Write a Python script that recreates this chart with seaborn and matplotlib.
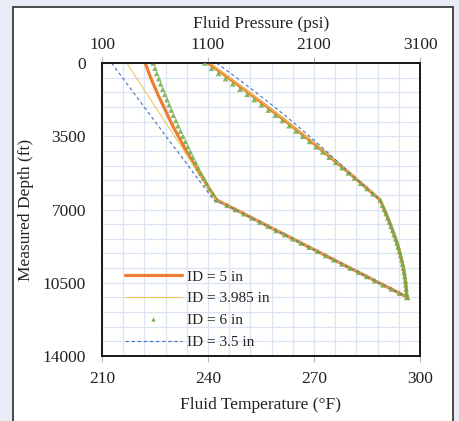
import matplotlib
matplotlib.use("Agg")
import matplotlib.pyplot as plt
from matplotlib.lines import Line2D
from matplotlib.patches import Rectangle
from matplotlib.ticker import MultipleLocator
import seaborn as sns
import pandas as pd

# ---------------- data ----------------
depth_upper = [0, 250, 500, 750, 1000, 1250, 1500, 1750, 2000, 2250, 2500, 2750, 3000,
               3250, 3500, 3750, 4000, 4250, 4500, 4750, 5000, 5250, 5500, 5750, 6000,
               6250, 6550]
depth_lower = [6800, 7000, 7200, 7400, 7600, 7800, 8000, 8200, 8400, 8600, 8800, 9000,
               9200, 9400, 9600, 9800, 10000, 10200, 10400, 10600, 10800, 11000, 11200]

temp_lower = [245.4, 247.7, 250.1, 252.4, 254.7, 257.0, 259.3, 261.7, 264.0, 266.3, 268.6,
              271.0, 273.3, 275.6, 277.9, 280.2, 282.6, 284.9, 287.2, 289.5, 291.9, 294.2,
              296.5]
press_lower = [2746, 2763, 2780, 2796, 2812, 2827, 2842, 2856, 2870, 2883, 2895, 2906,
               2916, 2926, 2935, 2943, 2950, 2956, 2962, 2966, 2970, 2973, 2975]

temp_id5 = [222.2, 222.8, 223.3, 223.9, 224.5, 225.2, 225.8, 226.5, 227.2, 227.9, 228.6,
            229.3, 230.0, 230.8, 231.6, 232.4, 233.2, 234.0, 234.9, 235.8, 236.6, 237.5,
            238.5, 239.4, 240.3, 241.3, 242.5]
temp_id3985 = [217.0, 218.0, 218.9, 219.9, 220.9, 221.8, 222.8, 223.8, 224.7, 225.7, 226.7,
               227.6, 228.6, 229.6, 230.5, 231.5, 232.5, 233.4, 234.4, 235.3, 236.3, 237.3,
               238.2, 239.2, 240.2, 241.1, 242.3]
temp_id6 = [224.5, 225.0, 225.5, 226.1, 226.6, 227.2, 227.8, 228.4, 229.0, 229.6, 230.2,
            230.9, 231.5, 232.2, 232.9, 233.6, 234.3, 235.0, 235.7, 236.5, 237.2, 238.0,
            238.8, 239.6, 240.4, 241.4, 242.5]
temp_id35 = [212.7, 213.8, 214.9, 216.0, 217.1, 218.2, 219.3, 220.4, 221.5, 222.6, 223.7,
             224.8, 225.9, 227.0, 228.1, 229.2, 230.3, 231.5, 232.6, 233.7, 234.8, 235.9,
             237.0, 238.1, 239.2, 240.3, 241.6]

press_id5 = [1100, 1169, 1237, 1304, 1371, 1438, 1504, 1569, 1634, 1698, 1762, 1826, 1888,
             1951, 2012, 2074, 2134, 2195, 2254, 2314, 2372, 2430, 2488, 2545, 2602, 2658,
             2724]
press_id3985 = [1108, 1177, 1245, 1312, 1379, 1446, 1512, 1577, 1642, 1706, 1770, 1834, 1896,
                1958, 2019, 2081, 2141, 2201, 2260, 2320, 2377, 2435, 2492, 2549, 2605, 2660,
                2724]
press_id6 = [1070, 1134, 1199, 1266, 1334, 1402, 1469, 1536, 1603, 1669, 1735, 1801, 1865,
             1930, 1993, 2057, 2119, 2182, 2242, 2304, 2363, 2423, 2482, 2540, 2599, 2656,
             2724]
press_id35 = [1180, 1248, 1315, 1380, 1446, 1511, 1576, 1639, 1702, 1763, 1824, 1884, 1943,
              2001, 2057, 2114, 2169, 2224, 2277, 2331, 2384, 2438, 2493, 2548, 2603, 2658,
              2724]

series_labels = ["ID = 5 in", "ID = 3.985 in", "ID = 6 in", "ID = 3.5 in"]
temp_upper = [temp_id5, temp_id3985, temp_id6, temp_id35]
press_upper = [press_id5, press_id3985, press_id6, press_id35]

x_temp_ticks = [210, 240, 270, 300]
x_press_ticks = [100, 1100, 2100, 3100]
y_ticks = [0, 3500, 7000, 10500, 14000]

# ---------------- build table ----------------
rows = []
for lab, tu, pu in zip(series_labels, temp_upper, press_upper):
    depths = depth_upper + depth_lower
    temps = tu + temp_lower
    press = pu + press_lower
    for i, (d, t, p) in enumerate(zip(depths, temps, press)):
        rows.append({"series": lab, "order": i, "depth": d, "temp": t, "press": p})
df = pd.DataFrame(rows)

# ---------------- style ----------------
sns.set_style("white")
plt.rcParams["font.family"] = ["Liberation Serif", "DejaVu Serif"]

W, H = 459, 421
fig = plt.figure(figsize=(W / 100, H / 100), dpi=100)
fig.patch.set_facecolor("#e8ecf6")
fig.patches.append(Rectangle((13 / W, -0.02), (453 - 13) / W, 1.02 - 7 / H,
                             transform=fig.transFigure, facecolor="white",
                             edgecolor="#3a3a3a", linewidth=1.3, zorder=-10))

L, R, T, B = 102, 420, 63, 356
ax = fig.add_axes([L / W, 1 - B / H, (R - L) / W, (B - T) / H])
ax.set_facecolor("none")
ax2 = ax.twiny()
ax2.set_facecolor("none")

styles = {
    "ID = 5 in": dict(color="#ed7d31", lw=2.3, ls="-"),
    "ID = 3.985 in": dict(color="#f2c14e", lw=0.7, ls="-"),
    "ID = 3.5 in": dict(color="#4472c4", lw=0.8, ls=(0, (3, 2.5))),
}
green = "#70ad47"

for lab in series_labels:
    sub = df[df.series == lab].sort_values("order")
    if lab == "ID = 6 in":
        sns.scatterplot(data=sub, x="temp", y="depth", ax=ax, marker="^", s=16,
                        color=green, edgecolor="none", alpha=0.85, legend=False, zorder=4)
        sns.scatterplot(data=sub, x="press", y="depth", ax=ax2, marker="^", s=16,
                        color=green, edgecolor="none", alpha=0.85, legend=False, zorder=4)
    else:
        st = styles[lab]
        sns.lineplot(data=sub, x="temp", y="depth", ax=ax, sort=False, estimator=None,
                     color=st["color"], linewidth=st["lw"], linestyle=st["ls"], legend=False)
        sns.lineplot(data=sub, x="press", y="depth", ax=ax2, sort=False, estimator=None,
                     color=st["color"], linewidth=st["lw"], linestyle=st["ls"], legend=False)

# ---------------- axes ----------------
ax.set_xlim(210, 300)
ax2.set_xlim(100, 3100)
ax.set_ylim(14000, 0)
ax2.set_ylim(14000, 0)
ax.set_xticks(x_temp_ticks)
ax2.set_xticks(x_press_ticks)
ax.set_yticks(y_ticks)
ax.xaxis.set_minor_locator(MultipleLocator(6))
ax.yaxis.set_minor_locator(MultipleLocator(700))
ax.grid(True, which="both", color="#dbe4f1", linewidth=0.9)
ax.set_axisbelow(True)

fs = 12.5
for a in (ax, ax2):
    a.tick_params(which="major", direction="out", length=4, width=0.8, color="#b8b8b8",
                  labelsize=fs, labelcolor="#222222")
    a.tick_params(which="minor", length=0)
    for s in a.spines.values():
        s.set_color("#111111")
        s.set_linewidth(1.1)
ax.tick_params(axis="x", pad=6.5)
ax.tick_params(axis="y", pad=7.5)
ax2.tick_params(axis="x", pad=3)

ax.set_xlabel("Fluid Temperature (°F)", fontsize=fs, color="#222222")
ax2.set_xlabel("Fluid Pressure (psi)", fontsize=fs, color="#222222")
ax.set_ylabel("Measured Depth (ft)", fontsize=fs, color="#222222")
ax.xaxis.set_label_coords(0.5, -0.14)
ax2.xaxis.set_label_coords(0.5, 1.12)
ax.yaxis.set_label_coords(-0.215, 0.5)

# ---------------- legend ----------------
handles = [
    Line2D([], [], color="#ed7d31", lw=2.3),
    Line2D([], [], color="#f2c14e", lw=0.7),
    Line2D([], [], color=green, marker="^", ls="none", markersize=3, markeredgewidth=0),
    Line2D([], [], color="#4472c4", lw=0.8, ls=(0, (3, 2.5))),
]
leg = ax2.legend(handles, series_labels, loc="upper left",
                 bbox_to_anchor=((125 - L) / (R - L), (B - 270) / (B - T)),
                 frameon=False, fontsize=11, handlelength=3.7, handletextpad=0.35,
                 labelspacing=0.53, borderpad=0, borderaxespad=0)
for t in leg.get_texts():
    t.set_color("#222222")

fig.savefig("out.png", dpi=100, facecolor=fig.get_facecolor())
